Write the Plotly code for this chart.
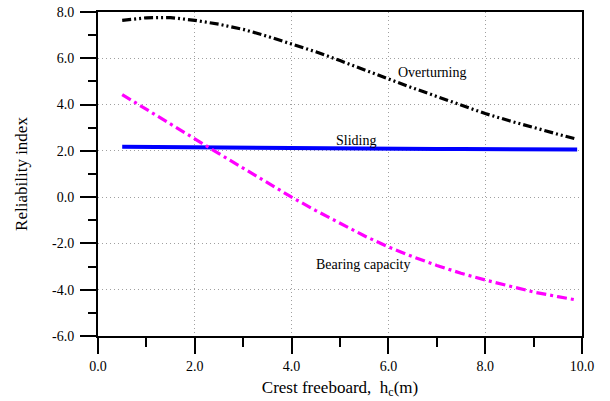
import plotly.graph_objects as go

# Crest freeboard (m)
hc = [0.5, 1.0, 1.5, 2.0, 2.5, 3.0, 3.5, 4.0, 4.5, 5.0,
      5.5, 6.0, 6.5, 7.0, 7.5, 8.0, 8.5, 9.0, 9.5, 9.9]

# Reliability index for each failure mode
overturning = [7.64, 7.75, 7.76, 7.64, 7.47, 7.25, 6.95, 6.62, 6.28, 5.90,
               5.50, 5.09, 4.72, 4.35, 3.98, 3.61, 3.30, 3.00, 2.72, 2.50]
sliding = [2.18, 2.17, 2.15, 2.14, 2.13, 2.12, 2.12, 2.11, 2.11, 2.10,
           2.10, 2.09, 2.09, 2.08, 2.08, 2.08, 2.07, 2.07, 2.06, 2.06]
bearing = [4.43, 3.78, 3.15, 2.52, 1.88, 1.25, 0.62, 0.00, -0.58, -1.14,
           -1.67, -2.15, -2.57, -2.95, -3.29, -3.58, -3.85, -4.10, -4.30, -4.45]

x_ticks = [0, 2, 4, 6, 8, 10]
x_tick_text = ["0.0", "2.0", "4.0", "6.0", "8.0", "10.0"]
y_ticks = [-6, -4, -2, 0, 2, 4, 6, 8]
y_tick_text = ["-6.0", "-4.0", "-2.0", "0.0", "2.0", "4.0", "6.0", "8.0"]

# Curve labels: (text, x, y)
labels = [("Overturning", 6.9, 5.39), ("Sliding", 5.33, 2.46),
          ("Bearing capacity", 5.47, -2.93)]

serif = "Liberation Serif"

fig = go.Figure()
fig.add_trace(go.Scatter(x=hc, y=overturning, mode="lines",
                         line=dict(color="black", width=3.2,
                                   dash="9px,3px,2px,3px,2px,3px"),
                         name="Overturning"))
fig.add_trace(go.Scatter(x=hc, y=sliding, mode="lines",
                         line=dict(color="#0000ff", width=4),
                         name="Sliding"))
fig.add_trace(go.Scatter(x=hc, y=bearing, mode="lines",
                         line=dict(color="#ff00ff", width=3.2,
                                   dash="10px,4px,3px,4px"),
                         name="Bearing capacity"))

for text, lx, ly in labels:
    fig.add_annotation(x=lx, y=ly, text=text, showarrow=False,
                       font=dict(family=serif, size=14, color="black"))

axis_common = dict(
    automargin=False,
    ticks="outside", ticklen=16, tickwidth=2, tickcolor="black",
    showline=True, linecolor="black", linewidth=2, mirror=True,
    showgrid=True, gridcolor="#a0a0a0", griddash="1px,3px", gridwidth=1,
    zeroline=False,
    tickfont=dict(family=serif, size=14, color="black"),
)

fig.update_xaxes(range=[0, 10], tickvals=x_ticks, ticktext=x_tick_text,
                 minor=dict(ticks="outside", ticklen=9, tickwidth=2,
                            tickcolor="black", dtick=1, showgrid=False),
                 title=dict(text="Crest freeboard,\u00a0 h<sub>c</sub>(m)",
                            font=dict(family=serif, size=17, color="black"),
                            standoff=8),
                 **axis_common)
fig.update_yaxes(range=[-6, 8], tickvals=y_ticks, ticktext=y_tick_text,
                 ticklabelstandoff=3,
                 minor=dict(ticks="outside", ticklen=8, tickwidth=2,
                            tickcolor="black", dtick=1, showgrid=False),
                 title=dict(text="Reliability index",
                            font=dict(family=serif, size=17, color="black"),
                            standoff=20),
                 **axis_common)

fig.update_layout(width=610, height=401, showlegend=False,
                  margin=dict(l=98, r=28, t=12, b=65),
                  plot_bgcolor="white", paper_bgcolor="white")

fig.write_html("out.html")
